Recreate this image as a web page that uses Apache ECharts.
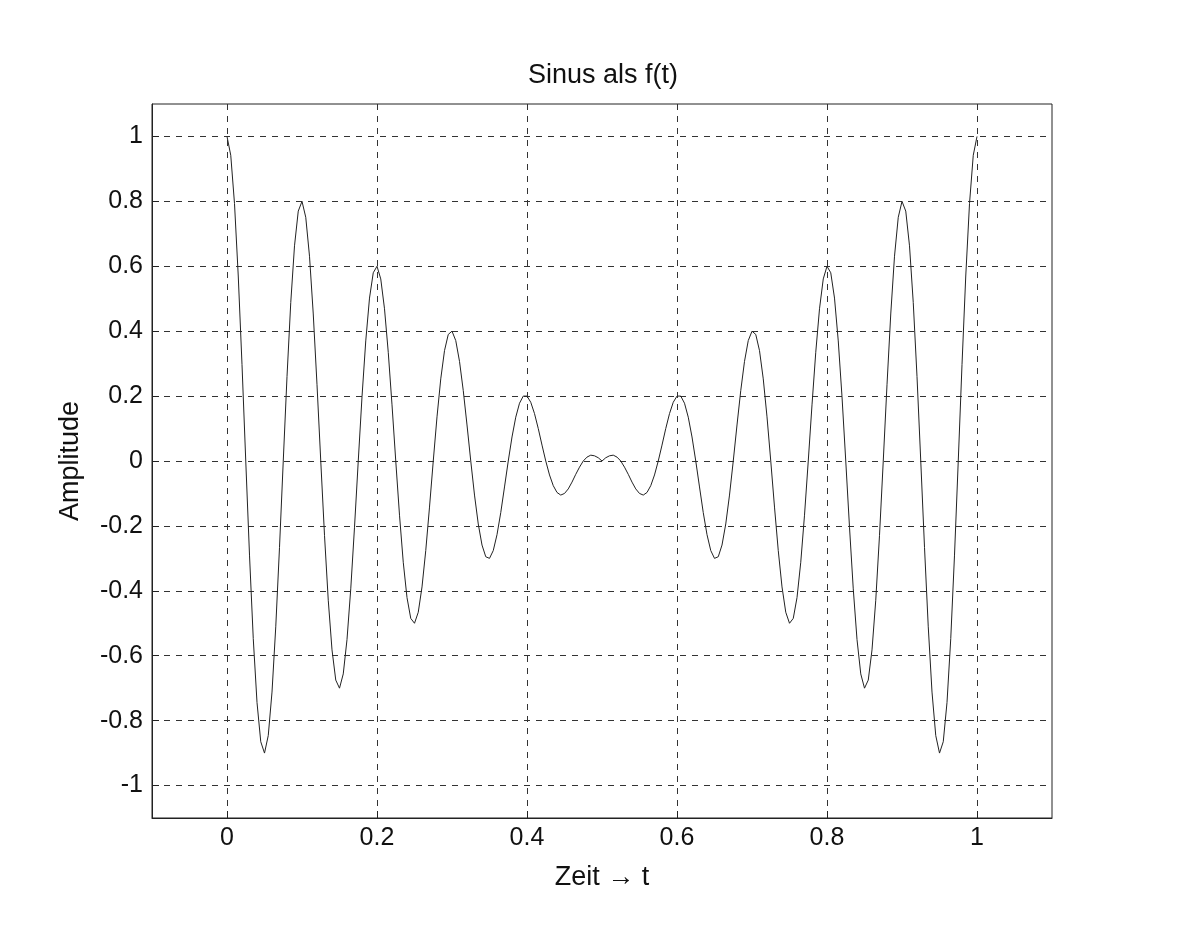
<!DOCTYPE html>
<html>
<head>
<meta charset="utf-8">
<script src="https://cdn.jsdelivr.net/npm/echarts@6/dist/echarts.min.js"></script>
<style>
  html, body { margin: 0; padding: 0; background: #ffffff; }
  #chart { width: 1192px; height: 934px; }
</style>
</head>
<body>
<div id="chart"></div>
<script>
// Texts
const titleText = 'Sinus als f(t)';
const xName = 'Zeit \u2192 t';
const yName = 'Amplitude';

// Tick labels
const xTicks = [0, 0.2, 0.4, 0.6, 0.8, 1];
const yTicks = [-1, -0.8, -0.6, -0.4, -0.2, 0, 0.2, 0.4, 0.6, 0.8, 1];

// Sample grid of the curve: t starts at 0, step 0.005 (201 samples up to 1)
const tStart = 0;
const tStep = 0.005;

// Amplitude values, one per sample
const amplitude = [
  1, 0.942, 0.793, 0.570, 0.297, 0, -0.290, -0.547, -0.744, -0.865,
  -0.900, -0.846, -0.712, -0.511, -0.266, 0, 0.260, 0.488, 0.663, 0.770,
  0.800, 0.751, 0.631, 0.453, 0.235, 0, -0.229, -0.429, -0.582, -0.675,
  -0.700, -0.656, -0.550, -0.394, -0.204, 0, 0.198, 0.370, 0.502, 0.580,
  0.600, 0.561, 0.469, 0.335, 0.173, 0, -0.167, -0.312, -0.421, -0.485,
  -0.500, -0.466, -0.388, -0.276, -0.142, 0, 0.136, 0.253, 0.340, 0.390,
  0.400, 0.371, 0.307, 0.217, 0.111, 0, -0.105, -0.194, -0.259, -0.295,
  -0.300, -0.276, -0.227, -0.159, -0.080, 0, 0.074, 0.135, 0.178, 0.200,
  0.200, 0.181, 0.146, 0.100, 0.049, 0, -0.043, -0.076, -0.097, -0.105,
  -0.100, -0.086, -0.065, -0.041, -0.019, 0, 0.012, 0.018, 0.016, 0.010,
  0,
  0.010, 0.016, 0.018, 0.012, 0, -0.019, -0.041, -0.065, -0.086, -0.100,
  -0.105, -0.097, -0.076, -0.043, 0, 0.049, 0.100, 0.146, 0.181, 0.200,
  0.200, 0.178, 0.135, 0.074, 0, -0.080, -0.159, -0.227, -0.276, -0.300,
  -0.295, -0.259, -0.194, -0.105, 0, 0.111, 0.217, 0.307, 0.371, 0.400,
  0.390, 0.340, 0.253, 0.136, 0, -0.142, -0.276, -0.388, -0.466, -0.500,
  -0.485, -0.421, -0.312, -0.167, 0, 0.173, 0.335, 0.469, 0.561, 0.600,
  0.580, 0.502, 0.370, 0.198, 0, -0.204, -0.394, -0.550, -0.656, -0.700,
  -0.675, -0.582, -0.429, -0.229, 0, 0.235, 0.453, 0.631, 0.751, 0.800,
  0.770, 0.663, 0.488, 0.260, 0, -0.266, -0.511, -0.712, -0.846, -0.900,
  -0.865, -0.744, -0.547, -0.290, 0, 0.297, 0.570, 0.793, 0.942, 1
];

const seriesData = amplitude.map((v, i) => [+(tStart + i * tStep).toFixed(3), v]);

const FONT = '"Liberation Sans", Arial, Helvetica, sans-serif';
const ARROW_FONT = '"DejaVu Sans", "Liberation Sans", sans-serif';

const chart = echarts.init(document.getElementById('chart'), null, { renderer: 'canvas' });
chart.setOption({
  backgroundColor: '#ffffff',
  animation: false,
  title: {
    text: titleText,
    left: 603,
    top: 62,
    textAlign: 'center',
    padding: 0,
    textStyle: { fontFamily: FONT, fontSize: 27, fontWeight: 'normal', color: '#111' }
  },
  grid: {
    left: 152, top: 104, width: 900, height: 714,
    show: true, borderColor: '#222', borderWidth: 1, backgroundColor: 'transparent',
    containLabel: false
  },
  xAxis: {
    type: 'value',
    min: -0.1, max: 1.1,
    name: xName,
    nameLocation: 'middle',
    nameGap: 46,
    nameTextStyle: { fontFamily: FONT, fontSize: 27, color: '#111' },
    axisLine: { show: true, onZero: false, lineStyle: { color: '#222', width: 1 } },
    axisTick: { show: true, inside: true, length: 7, customValues: xTicks, lineStyle: { color: '#222' } },
    axisLabel: { customValues: xTicks, margin: 8, fontFamily: FONT, fontSize: 25, color: '#111' },
    splitLine: { show: true, lineStyle: { color: '#333', width: 1, type: [6, 6] } }
  },
  yAxis: {
    type: 'value',
    min: -1.1, max: 1.1,
    name: yName,
    nameLocation: 'middle',
    nameGap: 68,
    nameRotate: 90,
    nameTextStyle: { fontFamily: FONT, fontSize: 27, color: '#111' },
    axisLine: { show: true, onZero: false, lineStyle: { color: '#222', width: 1 } },
    axisTick: { show: true, inside: true, length: 7, customValues: yTicks, lineStyle: { color: '#222' } },
    axisLabel: { customValues: yTicks, margin: 9, fontFamily: FONT, fontSize: 25, color: '#111' },
    splitLine: { show: true, lineStyle: { color: '#333', width: 1, type: [6, 6] } }
  },
  series: [{
    type: 'line',
    data: seriesData,
    showSymbol: false,
    smooth: false,
    lineStyle: { color: '#222', width: 1 },
    z: 5
  }]
});
</script>
</body>
</html>
